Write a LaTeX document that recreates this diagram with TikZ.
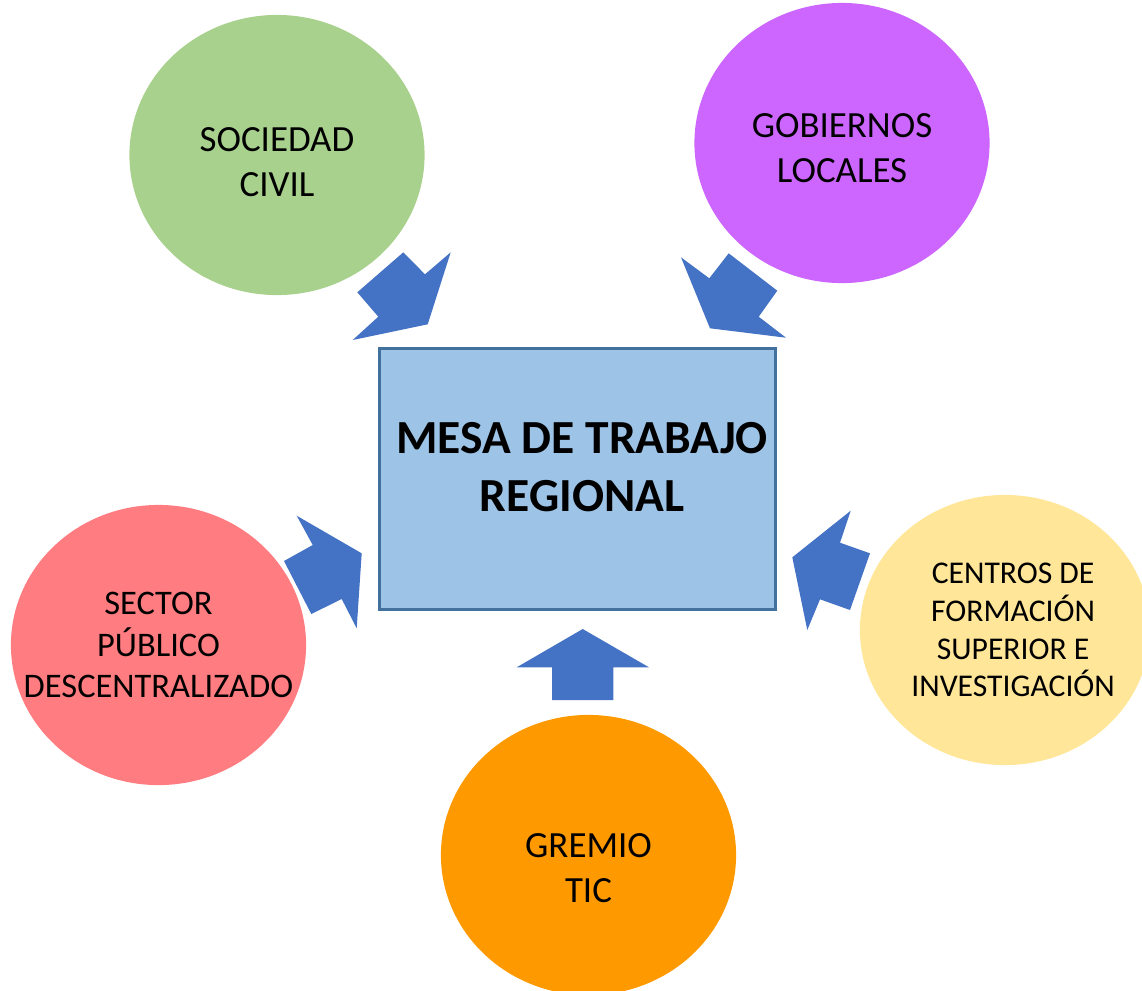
\documentclass[tikz,border=0pt]{standalone}
\usepackage{fontspec}
\setmainfont{Carlito}
\usetikzlibrary{shapes.geometric, positioning}
\definecolor{LeafGreen}{HTML}{A9D18E}
\definecolor{Lilac}{HTML}{CC66FF}
\definecolor{Salmon}{HTML}{FF7C80}
\definecolor{Sand}{HTML}{FFE699}
\definecolor{Amber}{HTML}{FF9900}
\definecolor{BoardBlue}{HTML}{9DC3E6}
\definecolor{BoardEdge}{HTML}{41719C}
\definecolor{ArrowBlue}{HTML}{4472C4}
\tikzset{
    bubble/.style={ellipse, inner sep=0pt, minimum width=2.95cm, minimum height=2.8cm},
    bubbletext/.style={align=center, font=\fontsize{10.5}{12.8}\selectfont},
    blockarrow/.style={fill=ArrowBlue}
}

\begin{document}
\begin{tikzpicture}[x=0.01cm, y=-0.01cm]
    \useasboundingbox (0,0) rectangle (1142,990);
    % central table
    \node[rectangle, fill=BoardBlue, draw=BoardEdge, line width=1pt,
          minimum width=3.96cm, minimum height=2.61cm,
          label={[align=center, font=\bfseries\fontsize{13.5}{16.5}\selectfont,
                  xshift=1.3pt, yshift=3.3pt]center:MESA DE TRABAJO\\REGIONAL}]
          (mesa) at (577.5,479) {};
    % actors around it
    \node[bubble, fill=LeafGreen,
          label={[bubbletext, yshift=-2pt]center:SOCIEDAD\\CIVIL}] (civil) at (277,155) {};
    \node[bubble, fill=Lilac,
          label={[bubbletext, yshift=-1.4pt]center:GOBIERNOS\\LOCALES}] (gobiernos) at (842,143) {};
    \node[bubble, fill=Salmon,
          label={[align=center, font=\fontsize{9.8}{11.85}\selectfont]center:SECTOR\\PÚBLICO\\DESCENTRALIZADO}]
          (publico) at (158.5,645) {};
    \node[bubble, fill=Sand, minimum width=2.9cm, minimum height=2.7cm,
          label={[align=center, font=\fontsize{9}{10.75}\selectfont, xshift=2.3pt]center:CENTROS DE\\FORMACIÓN\\SUPERIOR E\\INVESTIGACIÓN}]
          (centros) at (1005,630) {};
    \node[bubble, fill=Amber,
          label={[bubbletext, yshift=-3.8pt]center:GREMIO\\TIC}] (gremio) at (588.5,855) {};
    % block arrows toward the table
    \fill[blockarrow] (357.3,292.3) -- (403.3,252.3) -- (425,274.3) -- (450.7,252.3)
        -- (427.7,324.3) -- (352.7,340) -- (378.3,316.7) -- cycle;
    \fill[blockarrow] (681,257.3) -- (709.3,278.3) -- (728.7,253.3) -- (777.3,290.7)
        -- (758.7,316.7) -- (786,337.7) -- (710,328.3) -- cycle;
    \fill[blockarrow] (296.7,515.7) -- (312.7,545) -- (284,561) -- (311.3,614)
        -- (341.7,599) -- (356.7,628.3) -- (361.7,553.3) -- cycle;
    \fill[blockarrow] (850.7,510.7) -- (840,542.7) -- (870,553.3) -- (850,610)
        -- (820,599.3) -- (807.3,630) -- (792.3,557.3) -- cycle;
    \fill[blockarrow] (582.7,629) -- (649,667.3) -- (613.3,667.3) -- (613.3,700)
        -- (552,700) -- (552,667.3) -- (516.7,667.3) -- cycle;
\end{tikzpicture}
\end{document}
